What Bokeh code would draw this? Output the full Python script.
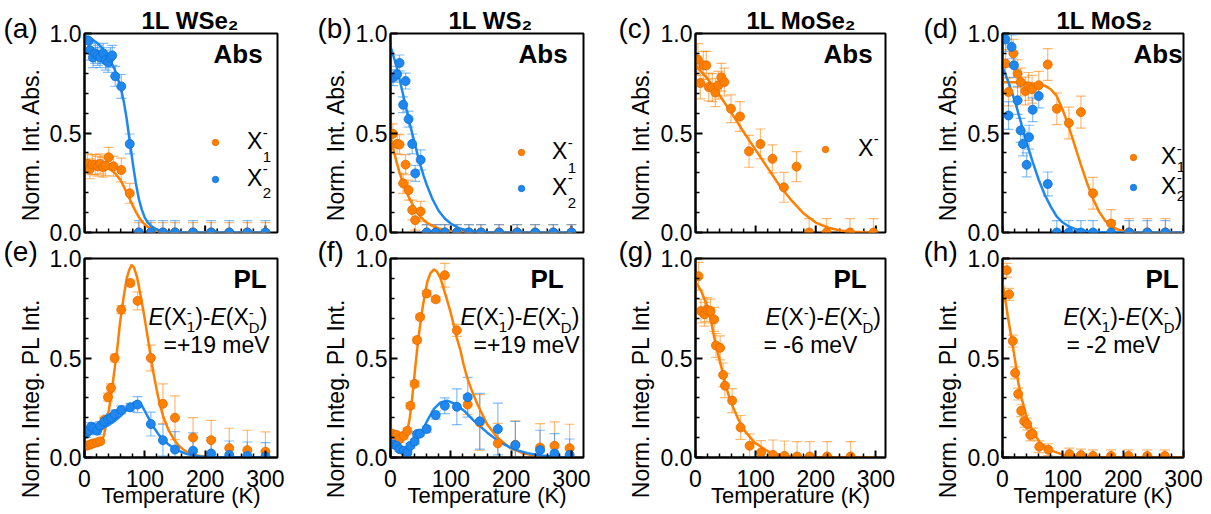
import math
from bokeh.plotting import figure
from bokeh.models import (Range1d, FixedTicker, NumeralTickFormatter, Label, Title,
                          Legend, LegendItem, ColumnDataSource)
from bokeh.layouts import column, row
from bokeh.embed import file_html
from bokeh.resources import INLINE

FONT = "Liberation Sans"
ORANGE = "#FF8000"
BLUE = "#1E88F0"
ORANGE_EDGE = "#E06A00"
BLUE_EDGE = "#0E6FD0"

# ---------------- data ----------------
# (a) 1L WSe2, absorption
A_X1_T = [5, 9, 13, 18, 22, 26, 31, 35, 40, 48, 61, 75, 90, 110, 130, 150, 180, 210, 240, 270, 300]
A_X1_V = [0.345, 0.320, 0.341, 0.341, 0.333, 0.345, 0.328, 0.336, 0.378, 0.333, 0.314, 0.197,
          0, 0, 0, 0, 0, 0, 0, 0, 0]
A_X1_E = [0.05, 0.05, 0.05, 0.05, 0.05, 0.05, 0.05, 0.05, 0.05, 0.05, 0.06, 0.05,
          0.05, 0.05, 0.05, 0.05, 0.05, 0.05, 0.05, 0.05, 0.05]
A_X2_T = [7, 9, 14, 18, 22, 26, 31, 35, 39, 43, 46, 51, 61, 75, 90, 110, 130, 150, 180, 210, 240, 270, 300]
A_X2_V = [0.963, 0.916, 0.879, 0.900, 0.890, 0.879, 0.900, 0.866, 0.855, 0.879, 0.890, 0.785, 0.734,
          0.445, 0, 0, 0, 0, 0, 0, 0, 0, 0]
A_X2_E = [0.04, 0.05, 0.05, 0.05, 0.05, 0.05, 0.05, 0.05, 0.05, 0.05, 0.05, 0.05, 0.06,
          0.05, 0.06, 0.06, 0.06, 0.06, 0.06, 0.06, 0.06, 0.06, 0.06]
A_FIT_T = [0, 10, 20, 30, 40, 50, 60, 65, 70, 75, 80, 85, 90, 95, 100, 105, 110, 120, 130, 140, 160, 200, 300]
A_FIT_X1 = [0.34, 0.34, 0.338, 0.333, 0.322, 0.30, 0.262, 0.232, 0.20, 0.168, 0.135, 0.105, 0.078,
            0.057, 0.04, 0.028, 0.019, 0.008, 0.003, 0.001, 0, 0, 0]
A_FIT_X2 = [0.99, 0.975, 0.955, 0.925, 0.88, 0.82, 0.73, 0.66, 0.57, 0.46, 0.35, 0.25, 0.17,
            0.115, 0.075, 0.05, 0.034, 0.015, 0.006, 0.003, 0.001, 0, 0]

# (b) 1L WS2, absorption
B_T = [4, 11, 15, 21, 25, 30, 36, 41, 50, 60, 75, 90, 110, 130, 150, 180, 210, 240, 270, 300]
B_X1_V = [0.496, 0.445, 0.442, 0.247, 0.341, 0.213, 0.113, 0.062, 0.106,
          0, 0, 0, 0, 0, 0, 0, 0, 0, 0, 0]
B_X1_E = [0.05, 0.05, 0.05, 0.05, 0.05, 0.05, 0.05, 0.05, 0.05,
          0.04, 0.04, 0.04, 0.04, 0.04, 0.04, 0.04, 0.04, 0.04, 0.04, 0.04]
B_X2_V = [0.778, 0.795, 0.852, 0.642, 0.761, 0.570, 0.445, 0.297, 0.365,
          0, 0, 0, 0, 0, 0, 0, 0, 0, 0, 0]
B_X2_E = [0.04, 0.04, 0.04, 0.04, 0.04, 0.04, 0.05, 0.04, 0.05,
          0.04, 0.04, 0.04, 0.04, 0.04, 0.04, 0.04, 0.04, 0.04, 0.04, 0.04]
B_FIT_T = [0, 5, 10, 15, 20, 25, 30, 35, 40, 45, 50, 55, 60, 70, 80, 90, 100, 110, 120, 140, 160, 200, 300]
B_FIT_X1 = [0.48, 0.415, 0.355, 0.302, 0.255, 0.215, 0.18, 0.15, 0.123, 0.099, 0.079, 0.063, 0.05,
            0.032, 0.02, 0.012, 0.007, 0.004, 0.002, 0.001, 0, 0, 0]
B_FIT_X2 = [0.935, 0.885, 0.835, 0.77, 0.705, 0.638, 0.572, 0.51, 0.45, 0.39, 0.335, 0.285, 0.24,
            0.165, 0.108, 0.07, 0.045, 0.027, 0.016, 0.005, 0.001, 0, 0]

# (c) 1L MoSe2, absorption
C_T = [4, 8, 13, 18, 22, 28, 33, 38, 43, 48, 59, 74, 89, 108, 128, 147, 168, 189, 218, 257, 296]
C_V = [0.869, 0.751, 0.840, 0.840, 0.731, 0.728, 0.703, 0.740, 0.780, 0.756, 0.622, 0.583, 0.408,
       0.445, 0.370, 0.227, 0.331, 0, 0, 0, 0]
C_E = [0.08, 0.08, 0.07, 0.07, 0.07, 0.07, 0.07, 0.07, 0.07, 0.07, 0.07, 0.075, 0.08,
       0.075, 0.07, 0.075, 0.075, 0.07, 0.07, 0.07, 0.07]
C_FIT_T = [0, 20, 40, 60, 80, 100, 120, 140, 160, 180, 200, 220, 240, 260, 280, 300]
C_FIT_V = [0.84, 0.773, 0.69, 0.60, 0.505, 0.415, 0.325, 0.235, 0.16, 0.095, 0.05, 0.025, 0.01,
           0.004, 0.001, 0]

# (d) 1L MoS2, absorption
D_X1_T = [5, 10, 18, 25, 30, 38, 43, 49, 60, 75, 90, 110, 130, 150, 180, 210, 240, 270]
D_X1_V = [0.849, 0.706, 0.900, 0.798, 0.756, 0.711, 0.734, 0.720, 0.740, 0.844, 0.622, 0.550,
          0.605, 0.197, 0.045, 0, 0, 0]
D_X1_E = [0.07, 0.07, 0.07, 0.07, 0.07, 0.07, 0.07, 0.07, 0.07, 0.08, 0.08, 0.08,
          0.08, 0.08, 0.07, 0.07, 0.07, 0.07]
D_X2_T = [5, 10, 15, 19, 25, 30, 34, 40, 44, 50, 60, 75, 90, 110, 130, 150, 180, 210, 240, 270]
D_X2_V = [0.970, 0.588, 0.933, 0.840, 0.664, 0.513, 0.445, 0.340, 0.479, 0.617, 0.686, 0.244,
          0, 0, 0, 0, 0, 0, 0, 0]
D_X2_E = [0.06, 0.07, 0.06, 0.06, 0.07, 0.06, 0.06, 0.06, 0.06, 0.06, 0.06, 0.06,
          0.06, 0.06, 0.06, 0.06, 0.06, 0.06, 0.06, 0.06]
D_FIT1_T = [0, 20, 40, 60, 70, 80, 90, 100, 110, 120, 130, 140, 150, 160, 170, 180, 190, 200, 220, 240, 300]
D_FIT1_V = [0.755, 0.755, 0.752, 0.745, 0.738, 0.72, 0.685, 0.615, 0.53, 0.435, 0.34, 0.25, 0.17,
            0.105, 0.06, 0.032, 0.016, 0.008, 0.002, 0, 0]
D_FIT2_T = [0, 10, 20, 30, 40, 50, 60, 70, 80, 90, 100, 110, 120, 140, 160, 180, 300]
D_FIT2_V = [0.832, 0.755, 0.665, 0.56, 0.45, 0.355, 0.265, 0.19, 0.13, 0.08, 0.05, 0.03, 0.018,
            0.006, 0.002, 0, 0]

# (e) 1L WSe2, PL
E_T = [3, 7, 11, 15, 21, 26, 33, 39, 44, 50, 61, 76, 88, 110, 130, 150, 180, 210, 240, 270, 300]
E_X1_V = [0.059, 0.062, 0.067, 0.071, 0.076, 0.081, 0.188, 0.303, 0.350, 0.500, 0.743, 0.877,
          0.787, 0.500, 0.270, 0.200, 0.100, 0.087, 0.047, 0.037, 0.029]
E_X1_E = [0.01, 0.01, 0.01, 0.01, 0.01, 0.01, 0.02, 0.02, 0.02, 0.02, 0.02, 0.015,
          0.045, 0.065, 0.10, 0.11, 0.10, 0.10, 0.10, 0.10, 0.10]
E_X2_V = [0.121, 0.135, 0.155, 0.148, 0.135, 0.160, 0.180, 0.193, 0.200, 0.218, 0.239, 0.252,
          0.266, 0.168, 0.087, 0.040, 0.034, 0.020, 0.013, 0.008, 0.005]
E_X2_E = [0.02, 0.02, 0.02, 0.02, 0.02, 0.02, 0.02, 0.02, 0.02, 0.02, 0.02, 0.02,
          0.04, 0.06, 0.08, 0.09, 0.09, 0.08, 0.07, 0.07, 0.07]
E_FIT1_T = [0, 10, 21, 27, 32, 37, 43, 48, 54, 59, 65, 70, 74, 78, 82, 87, 92, 98, 104, 109, 114,
            120, 125, 131, 139, 148, 156, 165, 175, 187, 200, 214, 300]
E_FIT1_V = [0.059, 0.061, 0.067, 0.08, 0.109, 0.18, 0.286, 0.40, 0.538, 0.68, 0.807, 0.90, 0.941,
            0.968, 0.955, 0.908, 0.83, 0.731, 0.62, 0.521, 0.43, 0.336, 0.265, 0.202, 0.14, 0.092,
            0.06, 0.037, 0.02, 0.01, 0.004, 0.001, 0]
E_FIT2_T = [0, 10, 21, 30, 38, 46, 54, 62, 71, 77, 82, 87, 93, 98, 104, 110, 115, 123, 131, 140,
            148, 159, 170, 181, 192, 210, 300]
E_FIT2_V = [0.109, 0.12, 0.134, 0.147, 0.16, 0.175, 0.193, 0.215, 0.244, 0.263, 0.277, 0.282, 0.27,
            0.245, 0.21, 0.178, 0.151, 0.115, 0.087, 0.064, 0.047, 0.03, 0.017, 0.01, 0.005, 0.002, 0]

# (f) 1L WS2, PL
F_T = [4, 10, 15, 22, 28, 33, 40, 44, 49, 60, 75, 90, 110, 128, 148, 178, 207, 248, 272, 297]
F_X1_V = [0.118, 0.113, 0.092, 0.109, 0.134, 0.260, 0.370, 0.590, 0.706, 0.824, 0.795, 0.916,
          0.639, 0.266, 0.176, 0.071, 0.064, 0.050, 0.059, 0.047]
F_X1_E = [0.015, 0.015, 0.015, 0.015, 0.015, 0.015, 0.015, 0.015, 0.015, 0.015, 0.012, 0.06,
          0.03, 0.05, 0.14, 0.10, 0.12, 0.12, 0.12, 0.12]
F_X2_V = [0.067, 0.059, 0.042, 0.034, 0.025, 0.059, 0.080, 0.118, 0.120, 0.143, 0.213, 0.260,
          0.255, 0.303, 0.182, 0.143, 0.062, 0.037, 0.020, 0.013]
F_X2_E = [0.012, 0.012, 0.012, 0.012, 0.012, 0.012, 0.012, 0.012, 0.012, 0.015, 0.02, 0.04,
          0.09, 0.10, 0.14, 0.13, 0.12, 0.10, 0.10, 0.08]
F_FIT1_T = [0, 11, 19, 24, 28, 32, 36, 40, 44, 48, 53, 57, 61, 66, 72, 77, 83, 88, 94, 100, 105,
            110, 116, 121, 127, 135, 144, 160, 177, 199, 221, 249, 280, 300]
F_FIT1_V = [0.148, 0.10, 0.087, 0.10, 0.134, 0.20, 0.30, 0.42, 0.538, 0.64, 0.748, 0.82, 0.882,
            0.925, 0.945, 0.935, 0.90, 0.85, 0.79, 0.725, 0.664, 0.60, 0.538, 0.47, 0.403, 0.335,
            0.269, 0.168, 0.10, 0.047, 0.02, 0.005, 0.001, 0]
F_FIT2_T = [0, 11, 22, 30, 39, 50, 61, 72, 83, 94, 105, 122, 138, 160, 182, 204, 227, 249, 282, 300]
F_FIT2_V = [0.076, 0.05, 0.037, 0.042, 0.071, 0.118, 0.185, 0.244, 0.277, 0.286, 0.272, 0.235,
            0.185, 0.126, 0.076, 0.042, 0.022, 0.01, 0.003, 0.001]

# (g) 1L MoSe2, PL
G_T = [5, 9, 15, 19, 25, 31, 34, 41, 46, 49, 61, 75, 90, 109, 129, 148, 169, 190, 219, 258]
G_V = [0.911, 0.736, 0.720, 0.743, 0.736, 0.694, 0.563, 0.551, 0.415, 0.361, 0.286, 0.151,
       0.059, 0.025, 0.013, 0.008, 0.005, 0.005, 0.005, 0.005]
G_E = [0.07, 0.06, 0.06, 0.06, 0.06, 0.06, 0.06, 0.06, 0.06, 0.06, 0.06, 0.06,
       0.06, 0.06, 0.075, 0.075, 0.075, 0.075, 0.075, 0.075]
G_FIT_T = [0, 9, 18, 26, 34, 43, 51, 59, 71, 82, 98, 121, 143, 165, 200, 300]
G_FIT_V = [0.882, 0.84, 0.773, 0.681, 0.563, 0.454, 0.353, 0.277, 0.193, 0.134, 0.076, 0.03,
           0.01, 0.003, 0, 0]

# (h) 1L MoS2, PL
H_T = [7, 11, 17, 21, 26, 31, 36, 41, 46, 50, 61, 76, 111, 130, 150, 180, 209, 240, 269]
H_V = [0.941, 0.820, 0.585, 0.425, 0.319, 0.235, 0.182, 0.168, 0.114, 0.118, 0.054, 0.039,
       0.017, 0.012, 0.008, 0.008, 0.008, 0.008, 0.008]
H_E = [0.035, 0.03, 0.03, 0.03, 0.03, 0.03, 0.03, 0.03, 0.03, 0.03, 0.03, 0.03,
       0.03, 0.03, 0.03, 0.03, 0.03, 0.03, 0.03]
H_FIT_T = [0, 4, 9, 15, 21, 26, 32, 40, 51, 62, 79, 101, 123, 150, 300]
H_FIT_V = [0.882, 0.807, 0.706, 0.597, 0.487, 0.378, 0.294, 0.202, 0.126, 0.076, 0.037, 0.013,
           0.003, 0, 0]

# tick positions
X_MAJOR = [0, 100, 200, 300]
X_MINOR = [20, 40, 60, 80, 120, 140, 160, 180, 220, 240, 260, 280]
Y_MAJOR = [0.0, 0.5, 1.0]
Y_MINOR = [0.1, 0.2, 0.3, 0.4, 0.6, 0.7, 0.8, 0.9]

TITLES = ["1L WSe\u2082", "1L WS\u2082", "1L MoSe\u2082", "1L MoS\u2082"]
LETTERS_TOP = ["(a)", "(b)", "(c)", "(d)"]
LETTERS_BOT = ["(e)", "(f)", "(g)", "(h)"]
YLAB_TOP = "Norm. Int. Abs."
YLAB_BOT = "Norm. Integ. PL Int."
XLAB = "Temperature (K)"

# ---------------- helpers ----------------
REG = {' ': 278, '(': 333, ')': 333, '-': 333, '.': 278, '=': 584, '+': 584,
       'A': 667, 'D': 722, 'E': 667, 'I': 278, 'K': 667, 'L': 556, 'M': 833, 'N': 722,
       'P': 667, 'S': 667, 'T': 611, 'V': 667, 'W': 944, 'X': 667,
       'a': 556, 'b': 556, 'e': 556, 'g': 556, 'm': 833, 'n': 556, 'o': 556, 'r': 333,
       's': 500, 't': 278}
BOLD = {' ': 278, 'L': 611, 'W': 944, 'S': 667, 'M': 833, 'e': 556, 'o': 611,
        'A': 722, 'b': 611, 's': 556, 'P': 667}


def text_w(s, size, style):
    tbl = BOLD if style == "bold" else REG
    return sum(tbl.get(ch, 556) for ch in s) * size / 1000.0


def lab(p, x, y, text, size, style="normal", align="left", baseline="alphabetic", angle=0.0):
    """y is the text baseline (screen px from the frame bottom) unless baseline is given."""
    if baseline == "alphabetic":
        y = y + 0.35 * size
        baseline = "middle"
    p.add_layout(Label(x=x, y=y, x_units="screen", y_units="screen", text=text,
                       text_font=FONT, text_font_size=f"{size}px", text_font_style=style,
                       text_color="black", text_align=align, text_baseline=baseline,
                       angle=angle))


def rich(p, x, y, parts):
    cx = x
    for part in parts:
        if part[0] == "t":
            lab(p, cx, y, part[1], part[2], part[3])
            cx += text_w(part[1], part[2], part[3])
        else:
            _, sub, sup, size, sdy, pdy, style = part
            if sub:
                lab(p, cx, y + sdy, sub, size, style)
            if sup:
                lab(p, cx, y + pdy, sup, size, style)
            cx += max(text_w(sub or "", size, style), text_w(sup or "", size, style))


# column geometry: strip width (letters + y labels), frame width, right border, x max,
# title offset from the frame's left edge
COLS = [dict(strip=46, fw=193, right=23, xend=320, letter_x=3, ylab_x=30, title_x=57),
        dict(strip=52, fw=193, right=22, xend=320, letter_x=17, ylab_x=35, title_x=58),
        dict(strip=52, fw=190, right=25, xend=316, letter_x=13, ylab_x=35, title_x=51),
        dict(strip=54, fw=181, right=28, xend=300, letter_x=13, ylab_x=37, title_x=54)]
AXW = 38
FH = 199


def make_fig(c, top, title_text=None):
    p = figure(title=None, frame_width=c["fw"], frame_height=FH,
               x_range=Range1d(0, c["xend"]), y_range=Range1d(0, 1.0),
               min_border_left=AXW, min_border_right=c["right"],
               min_border_top=33 if top else 13, min_border_bottom=13 if top else 57,
               x_axis_location=None if top else "below",
               output_backend="svg", toolbar_location=None)
    p.grid.visible = False
    p.outline_line_color = "black"
    p.outline_line_width = 2
    p.outline_line_alpha = 1.0
    axes = [p.yaxis[0]]
    ya = p.yaxis[0]
    ya.ticker = FixedTicker(ticks=Y_MAJOR, minor_ticks=Y_MINOR)
    ya.formatter = NumeralTickFormatter(format="0.0")
    ya.major_label_standoff = 3
    if not top:
        xa = p.xaxis[0]
        axes.append(xa)
        xa.ticker = FixedTicker(ticks=X_MAJOR, minor_ticks=X_MINOR)
        xa.major_label_standoff = 12
        xa.axis_label = XLAB
        xa.axis_label_text_font = FONT
        xa.axis_label_text_font_size = "22px"
        xa.axis_label_text_font_style = "normal"
        xa.axis_label_text_color = "black"
        xa.axis_label_standoff = -7
    for ax in axes:
        ax.axis_line_width = 2
        ax.axis_line_color = "black"
        ax.major_tick_in = 7
        ax.major_tick_out = 0
        ax.minor_tick_in = 4
        ax.minor_tick_out = 0
        ax.major_tick_line_width = 2
        ax.minor_tick_line_width = 1.5
        ax.major_tick_line_color = "black"
        ax.minor_tick_line_color = "black"
        ax.major_label_text_font = FONT
        ax.major_label_text_font_size = "23px"
        ax.major_label_text_color = "black"
    if top:
        # inward bottom ticks of the upper panels (no tick labels there)
        p.scatter(X_MAJOR, [0, 0, 0, 0], marker="dash", angle=math.pi / 2, size=14,
                  line_color="black", line_width=2)
        p.scatter(X_MINOR, [0, 0, 0, 0, 0, 0, 0, 0, 0, 0, 0, 0], marker="dash",
                  angle=math.pi / 2, size=8, line_color="black", line_width=1.5)
    if title_text:
        p.add_layout(Title(text=title_text, align="left", offset=c["title_x"],
                           text_font=FONT, text_font_size="24px", text_font_style="bold",
                           text_color="black", standoff=0), "above")
    return p


def make_strip(c, letters, top_ylab_y, bot_ylab_y):
    s = figure(width=c["strip"], height=514, x_axis_location=None, y_axis_location=None,
               min_border=0, x_range=Range1d(0, 1), y_range=Range1d(0, 1),
               output_backend="svg", toolbar_location=None)
    s.grid.visible = False
    s.outline_line_color = None
    lab(s, c["letter_x"], 476.5, letters[0], 28)
    lab(s, c["letter_x"], 253, letters[1], 28)
    lab(s, c["ylab_x"], top_ylab_y, YLAB_TOP, 23, align="center", baseline="middle",
        angle=math.pi / 2)
    lab(s, c["ylab_x"], bot_ylab_y, YLAB_BOT, 23, align="center", baseline="middle",
        angle=math.pi / 2)
    return s


def errbars(p, T, V, E, color):
    lo = [v - e for v, e in zip(V, E)]
    hi = [v + e for v, e in zip(V, E)]
    src = ColumnDataSource(dict(x=T, lo=lo, hi=hi))
    p.segment(x0="x", y0="lo", x1="x", y1="hi", source=src, line_color=color,
              line_alpha=0.55, line_width=1.2)
    for key in ("lo", "hi"):
        p.scatter(x="x", y=key, source=src, marker="dash", size=10, line_color=color,
                  line_alpha=0.55, line_width=1.2)


def points(p, T, V, color, edge):
    return p.scatter(T, V, size=9, fill_color=color, line_color=edge, line_width=0.8)


def fit(p, T, V, color):
    p.line(T, V, line_color=color, line_width=2.5)


def legend(p, renderers, loc, spacing, standoff):
    items = [LegendItem(label="X", renderers=[r]) for r in renderers]
    lg = Legend(items=items, location=loc, orientation="vertical", padding=0,
                spacing=spacing, glyph_width=20, glyph_height=16, label_width=0,
                label_height=26, label_standoff=standoff, background_fill_alpha=0,
                border_line_alpha=0, margin=0, label_text_font=FONT,
                label_text_font_size="23px", label_text_color="black")
    p.add_layout(lg)


def subsup(p, x, y, sub, sup, sdy=-12, pdy=13.5):
    if sub:
        lab(p, x, y + sdy, sub, 15)
    if sup:
        lab(p, x, y + pdy, sup, 15)


def eline(sub1):
    return [("t", "E", 23, "italic"), ("t", "(X", 23, "normal"),
            ("ss", sub1, "-", 15, -7, 7.5, "normal"), ("t", ")-", 23, "normal"),
            ("t", "E", 23, "italic"), ("t", "(X", 23, "normal"),
            ("ss", "D", "-", 15, -7, 7.5, "normal"), ("t", ")", 23, "normal")]


XW = text_w("X", 23, "normal")

# ---------------- top row ----------------
# (a)
pa = make_fig(COLS[0], True, TITLES[0])
errbars(pa, A_X1_T, A_X1_V, A_X1_E, ORANGE)
errbars(pa, A_X2_T, A_X2_V, A_X2_E, BLUE)
fit(pa, A_FIT_T, A_FIT_X1, ORANGE)
fit(pa, A_FIT_T, A_FIT_X2, BLUE)
ra1 = points(pa, A_X1_T, A_X1_V, ORANGE, ORANGE_EDGE)
ra2 = points(pa, A_X2_T, A_X2_V, BLUE, BLUE_EDGE)
legend(pa, [ra1, ra2], (121, 40), 10, 22)
subsup(pa, 163 + XW, 81, "1", "-", sdy=-11)
subsup(pa, 163 + XW, 45, "2", "-", sdy=-11)
lab(pa, 129, 169, "Abs", 26, "bold")

# (b)
pb = make_fig(COLS[1], True, TITLES[1])
errbars(pb, B_T, B_X1_V, B_X1_E, ORANGE)
errbars(pb, B_T, B_X2_V, B_X2_E, BLUE)
fit(pb, B_FIT_T, B_FIT_X1, ORANGE)
fit(pb, B_FIT_T, B_FIT_X2, BLUE)
rb1 = points(pb, B_T, B_X1_V, ORANGE, ORANGE_EDGE)
rb2 = points(pb, B_T, B_X2_V, BLUE, BLUE_EDGE)
legend(pb, [rb1, rb2], (121, 31), 9, 21)
subsup(pb, 162 + XW, 71, "1", "-")
subsup(pb, 162 + XW, 36, "2", "-")
lab(pb, 128, 169, "Abs", 26, "bold")

# (c)
pc = make_fig(COLS[2], True, TITLES[2])
errbars(pc, C_T, C_V, C_E, ORANGE)
fit(pc, C_FIT_T, C_FIT_V, ORANGE)
rc1 = points(pc, C_T, C_V, ORANGE, ORANGE_EDGE)
legend(pc, [rc1], (120, 70), 0, 23)
subsup(pc, 163 + XW, 75, None, "-")
lab(pc, 128, 169, "Abs", 26, "bold")

# (d)
pd_ = make_fig(COLS[3], True, TITLES[3])
errbars(pd_, D_X1_T, D_X1_V, D_X1_E, ORANGE)
errbars(pd_, D_X2_T, D_X2_V, D_X2_E, BLUE)
fit(pd_, D_FIT1_T, D_FIT1_V, ORANGE)
fit(pd_, D_FIT2_T, D_FIT2_V, BLUE)
rd1 = points(pd_, D_X1_T, D_X1_V, ORANGE, ORANGE_EDGE)
rd2 = points(pd_, D_X2_T, D_X2_V, BLUE, BLUE_EDGE)
legend(pd_, [rd1, rd2], (121, 32), 3, 18)
subsup(pd_, 159 + XW, 66, "1", "-", sdy=-6, pdy=12)
subsup(pd_, 159 + XW, 37, "2", "-", sdy=-6, pdy=12)
lab(pd_, 131, 169, "Abs", 26, "bold")

# ---------------- bottom row ----------------
# (e)
pe = make_fig(COLS[0], False)
errbars(pe, E_T, E_X1_V, E_X1_E, ORANGE)
errbars(pe, E_T, E_X2_V, E_X2_E, BLUE)
fit(pe, E_FIT1_T, E_FIT1_V, ORANGE)
fit(pe, E_FIT2_T, E_FIT2_V, BLUE)
points(pe, E_T, E_X1_V, ORANGE, ORANGE_EDGE)
points(pe, E_T, E_X2_V, BLUE, BLUE_EDGE)
lab(pe, 149, 169, "PL", 26, "bold")
rich(pe, 64, 132, eline("1"))
lab(pe, 79, 104, "=+19 meV", 23)

# (f)
pf = make_fig(COLS[1], False)
errbars(pf, F_T, F_X1_V, F_X1_E, ORANGE)
errbars(pf, F_T, F_X2_V, F_X2_E, BLUE)
fit(pf, F_FIT1_T, F_FIT1_V, ORANGE)
fit(pf, F_FIT2_T, F_FIT2_V, BLUE)
points(pf, F_T, F_X1_V, ORANGE, ORANGE_EDGE)
points(pf, F_T, F_X2_V, BLUE, BLUE_EDGE)
lab(pf, 140, 169, "PL", 26, "bold")
rich(pf, 70, 132, eline("1"))
lab(pf, 83, 104, "=+19 meV", 23)

# (g)
pg = make_fig(COLS[2], False)
errbars(pg, G_T, G_V, G_E, ORANGE)
fit(pg, G_FIT_T, G_FIT_V, ORANGE)
points(pg, G_T, G_V, ORANGE, ORANGE_EDGE)
lab(pg, 138, 169, "PL", 26, "bold")
rich(pg, 70, 132, [("t", "E", 23, "italic"), ("t", "(X", 23, "normal"),
                   ("ss", None, "-", 15, -7, 7.5, "normal"), ("t", ")-", 23, "normal"),
                   ("t", "E", 23, "italic"), ("t", "(X", 23, "normal"),
                   ("ss", "D", "-", 15, -7, 7.5, "normal"), ("t", ")", 23, "normal")])
lab(pg, 68, 104, "= -6 meV", 23)

# (h)
ph = make_fig(COLS[3], False)
errbars(ph, H_T, H_V, H_E, ORANGE)
fit(ph, H_FIT_T, H_FIT_V, ORANGE)
points(ph, H_T, H_V, ORANGE, ORANGE_EDGE)
lab(ph, 143, 169, "PL", 26, "bold")
rich(ph, 61, 132, eline("1"))
lab(ph, 64, 104, "= -2 meV", 23)

# ---------------- letter / y-label strips ----------------
strips = [make_strip(COLS[i], (LETTERS_TOP[i], LETTERS_BOT[i]), 370, 116) for i in range(4)]

cols = [row(strips[0], column(pa, pe)), row(strips[1], column(pb, pf)),
        row(strips[2], column(pc, pg)), row(strips[3], column(pd_, ph))]
layout = row(*cols)
open("out.html", "w").write(file_html(layout, INLINE))
